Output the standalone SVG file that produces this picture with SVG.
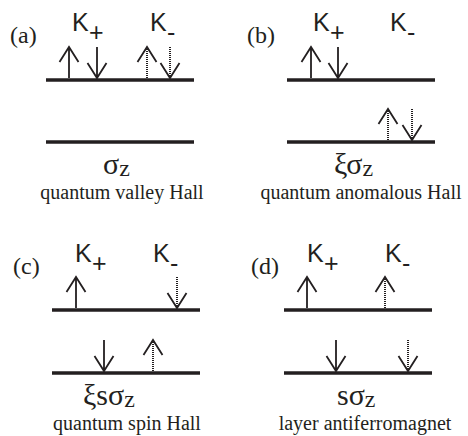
<svg xmlns="http://www.w3.org/2000/svg" width="468" height="436" viewBox="0 0 468 436">
<style>
.lvl{stroke:#231f20;stroke-width:3.5;fill:none}
.arr{stroke:#231f20;stroke-width:1.8;fill:none}
.dot{stroke:#231f20;stroke-width:2;stroke-dasharray:1 1;fill:none}
.lab{font-family:"Liberation Serif","Times New Roman",serif;font-size:24px;fill:#231f20}
.k{font-family:"Liberation Sans",Arial,sans-serif;font-size:25px;fill:#231f20}
.sig{font-family:"Liberation Serif","Times New Roman",serif;font-size:30px;fill:#231f20}
.sub{font-family:"Liberation Serif","Times New Roman",serif;font-size:24px;fill:#231f20}
.cap{font-family:"Liberation Serif","Times New Roman",serif;font-size:20px;fill:#231f20;text-anchor:middle}
</style>
<defs>
<g id="up"><path class="arr" d="M0,0 V-31 M-9.5,-16 L0,-31 L9.5,-16"/></g>
<g id="dn"><path class="arr" d="M0,-31 V0 M-9.5,-15 L0,0 L9.5,-15"/></g>
<g id="upd"><path class="dot" d="M0,0 V-30"/><path class="arr" d="M-9.5,-16 L0,-31 L9.5,-16"/></g>
<g id="dnd"><path class="dot" d="M0,-31 V-1"/><path class="arr" d="M-9.5,-15 L0,0 L9.5,-15"/></g>
</defs>
<g id="panel-a">
<text class="lab" x="10" y="43">(a)</text>
<text class="k" x="72" y="31">K</text><text class="k" x="89" y="41">+</text>
<text class="k" x="150" y="31">K</text><text class="k" x="167" y="41">-</text>
<line class="lvl" x1="46" y1="80" x2="194" y2="80"/>
<line class="lvl" x1="46" y1="142" x2="194" y2="142"/>
<use href="#up" x="69" y="78"/>
<use href="#dn" x="97" y="78"/>
<use href="#upd" x="147" y="78"/>
<use href="#dnd" x="170" y="78"/>
<text x="103" y="174"><tspan class="sig">σ</tspan><tspan class="sub" dy="2">z</tspan></text>
<text class="cap" x="122" y="199">quantum valley Hall</text>
</g>
<g id="panel-b">
<text class="lab" x="247" y="43">(b)</text>
<text class="k" x="313" y="31">K</text><text class="k" x="330" y="41">+</text>
<text class="k" x="390" y="31">K</text><text class="k" x="407" y="41">-</text>
<line class="lvl" x1="287" y1="80" x2="435" y2="80"/>
<line class="lvl" x1="287" y1="142" x2="435" y2="142"/>
<use href="#up" x="311" y="78"/>
<use href="#dn" x="338" y="78"/>
<use href="#upd" x="388" y="140"/>
<use href="#dnd" x="412" y="140"/>
<text x="334" y="174"><tspan class="sig">ξσ</tspan><tspan class="sub" dy="2">z</tspan></text>
<text class="cap" x="361" y="199">quantum anomalous Hall</text>
</g>
<g id="panel-c">
<text class="lab" x="13" y="274">(c)</text>
<text class="k" x="75" y="262">K</text><text class="k" x="92" y="272">+</text>
<text class="k" x="153" y="262">K</text><text class="k" x="170" y="272">-</text>
<line class="lvl" x1="52" y1="310" x2="200" y2="310"/>
<line class="lvl" x1="52" y1="373" x2="200" y2="373"/>
<use href="#up" x="76" y="308"/>
<use href="#dnd" x="177" y="308"/>
<use href="#dn" x="104" y="371"/>
<use href="#upd" x="153" y="371"/>
<text x="83" y="405"><tspan class="sig">ξsσ</tspan><tspan class="sub" dy="2">z</tspan></text>
<text class="cap" x="127" y="430">quantum spin Hall</text>
</g>
<g id="panel-d">
<text class="lab" x="251" y="274">(d)</text>
<text class="k" x="307" y="262">K</text><text class="k" x="324" y="272">+</text>
<text class="k" x="385" y="262">K</text><text class="k" x="402" y="272">-</text>
<line class="lvl" x1="284" y1="310" x2="432" y2="310"/>
<line class="lvl" x1="284" y1="373" x2="432" y2="373"/>
<use href="#up" x="307" y="308"/>
<use href="#upd" x="385" y="308"/>
<use href="#dn" x="336" y="371"/>
<use href="#dnd" x="408" y="371"/>
<text x="337" y="405"><tspan class="sig">sσ</tspan><tspan class="sub" dy="2">z</tspan></text>
<text class="cap" x="365" y="430">layer antiferromagnet</text>
</g>
</svg>
